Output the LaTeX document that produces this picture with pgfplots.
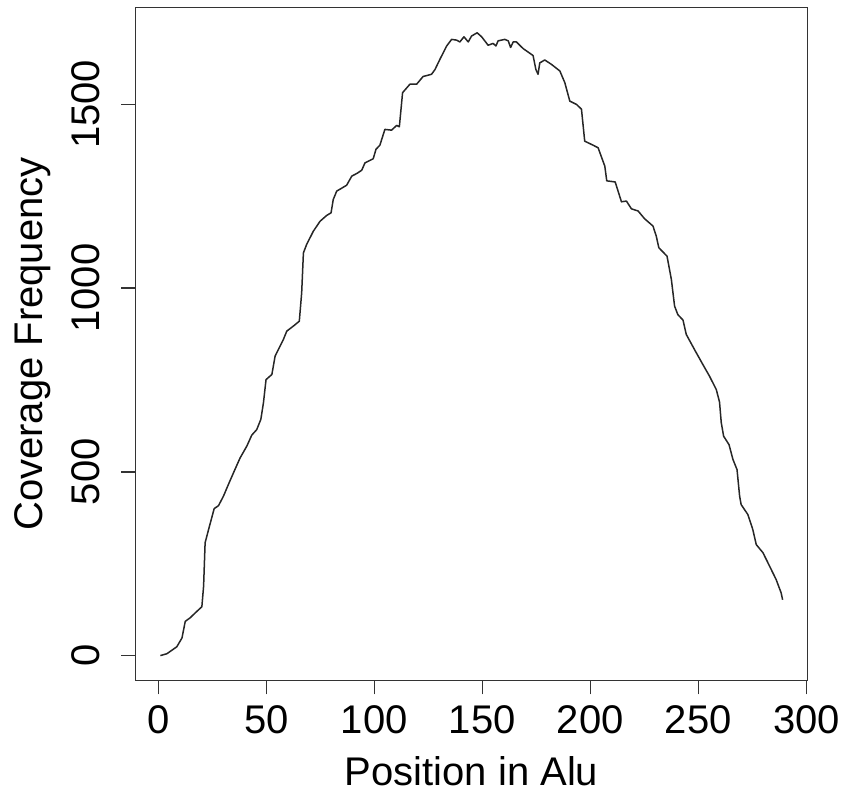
\documentclass[border=0pt]{standalone}
\usepackage{fontspec}
\setmainfont{Liberation Sans}
\usepackage{pgfplots}
\pgfplotsset{compat=1.18}
\begin{document}
\begin{tikzpicture}[font=\fontsize{40}{48}\selectfont]
\useasboundingbox (0,0) rectangle (843pt,794pt);
\begin{axis}[
  at={(135.5pt,113.5pt)}, anchor=south west,
  width=672pt, height=673pt, scale only axis,
  xmin=-10.52, xmax=300.52, ymin=-67.8, ymax=1763.8,
  xtick={0,50,100,150,200,250,300},
  ytick={0,500,1000,1500},
  tick pos=left, tick align=outside,
  major tick length=14pt,
  axis line style={line width=1.3pt, draw=black!80},
  every tick/.style={line width=1.3pt, draw=black!80},
  /pgf/number format/assume math mode=true,
  /pgf/number format/1000 sep={},
  scaled ticks=false,
  xticklabel style={inner sep=0pt, anchor=north, yshift=-10.5pt},
  yticklabel style={inner sep=0pt, xshift=-21.5pt, rotate=90, anchor=south},
  xlabel={Position in Alu},
  ylabel={Coverage Frequency},
  xlabel style={at={(axis description cs:0.5,0)}, anchor=base, inner sep=0pt, yshift=-105pt},
  ylabel style={at={(axis description cs:0,0.5)}, anchor=base, inner sep=0pt, yshift=92.5pt},
]
\addplot[black!85, line width=1.5pt, line join=round] coordinates {
(1,0) (4,5) (8.6,24) (11,48) (12.5,93) (14.8,103) (17.1,116) (20.2,133)
(21,189) (21.7,307) (23.3,343) (25.9,400) (27.9,408) (30.2,434) (32.5,466)
(34.8,497) (37.9,538) (41,570) (43.3,600) (45.6,615) (47.5,643) (48.7,688)
(49.9,751) (52.6,765) (54.1,815) (55.6,833) (57.9,860) (59.5,883) (62.6,897)
(65.3,910) (66.4,988) (67.2,1096) (68.7,1119) (71.8,1155) (74.9,1182) (78,1198)
(80,1205) (81,1241) (82.6,1264) (87.2,1280) (89.6,1305) (91.9,1312) (94.2,1321)
(95.7,1341) (99.5,1352) (100.8,1378) (102.6,1389) (104.9,1432) (108,1430)
(110.4,1443) (111.6,1439) (113.1,1532) (116.5,1555) (119.6,1555) (122.6,1576)
(126.5,1582) (128.1,1595) (130.4,1623) (133.5,1659) (135.8,1677) (138.1,1675)
(139.6,1670) (141.5,1684) (143.5,1670) (145,1686) (147.6,1695) (149.7,1684)
(152.7,1661) (155,1666) (156.3,1659) (157.3,1673) (160.4,1677) (162,1673)
(163.1,1655) (164.3,1670) (165.8,1670) (168.9,1652) (173.5,1633) (174.8,1595)
(175.8,1582) (176.6,1613) (178.9,1621) (182,1609) (185.9,1591) (188.2,1559)
(190.5,1509) (193.6,1500) (195.9,1487) (197.4,1400) (201.3,1389) (203.6,1382)
(206.7,1332) (207.6,1292) (211.5,1289) (214.4,1235) (216.7,1237) (219,1216)
(222.1,1210) (225.1,1189) (229,1169) (230.5,1142) (231.7,1110) (235.5,1087)
(237.5,1024) (239,951) (240.5,928) (242.9,913) (244.4,874) (248.2,833)
(252.1,792) (255.2,760) (258.3,724) (259.8,690) (260.6,634) (261.7,597)
(264.2,574) (266,534) (267.9,506) (269.1,434) (269.8,411) (272.9,384)
(275.2,343) (276.8,302) (279.9,280) (283,243) (286,207) (288.3,171) (289,152)
};
\end{axis}
\end{tikzpicture}
\end{document}
